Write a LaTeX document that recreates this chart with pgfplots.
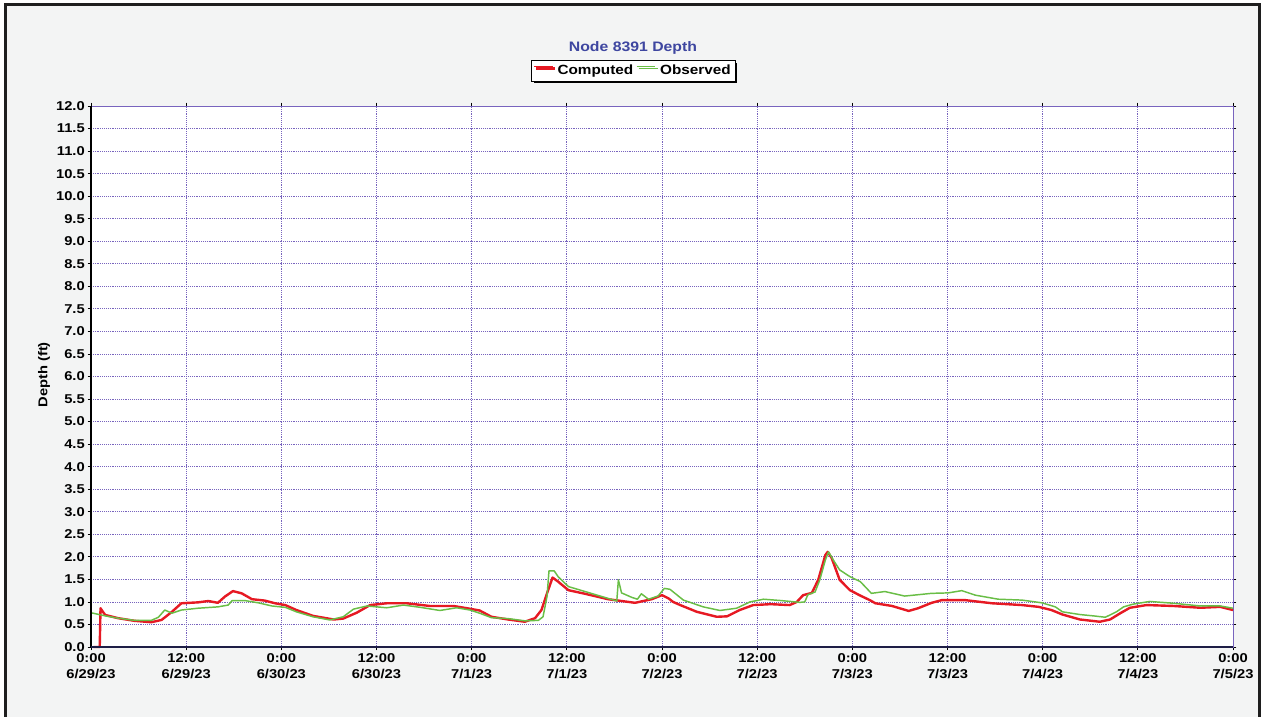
\documentclass[border=0pt]{standalone}
\usepackage{fontspec}
\setmainfont{Liberation Sans}[FakeStretch=1.15]
\usepackage{pgfplots}
\pgfplotsset{compat=1.18}
\usetikzlibrary{shadows}
\definecolor{gridc}{RGB}{120,100,190}
\definecolor{titlec}{RGB}{62,70,160}
\definecolor{bgc}{RGB}{243,244,244}
\definecolor{framec}{RGB}{30,30,30}
\definecolor{compc}{RGB}{230,25,35}
\definecolor{obsc}{RGB}{105,190,70}
\definecolor{navy}{RGB}{30,30,70}
\begin{document}
\begin{tikzpicture}
\path[use as bounding box] (-68.25pt,-52.5pt) rectangle (880.5pt,485.25pt);
\fill[white] (-68.25pt,-52.5pt) rectangle (880.5pt,485.25pt);
\fill[bgc] (-63.75pt,-52.5pt) rectangle (876pt,481.5pt);
\begin{axis}[
  at={(0pt,0pt)}, anchor=south west,
  scale only axis, width=856.5pt, height=405.75pt,
  xmin=0, xmax=144, ymin=0, ymax=12,
  xtick={0,12,...,144},
  xticklabels={{0:00\\6/29/23},{12:00\\6/29/23},{0:00\\6/30/23},{12:00\\6/30/23},{0:00\\7/1/23},{12:00\\7/1/23},{0:00\\7/2/23},{12:00\\7/2/23},{0:00\\7/3/23},{12:00\\7/3/23},{0:00\\7/4/23},{12:00\\7/4/23},{0:00\\7/5/23}},
  ytick={0,0.5,...,12},
  /pgf/number format/fixed, /pgf/number format/fixed zerofill, /pgf/number format/precision=1, /pgf/number format/assume math mode=true,
  yticklabel style={font=\fontsize{9.6}{11}\selectfont\bfseries, inner sep=2pt},
  xticklabel style={font=\fontsize{9.6}{12}\selectfont\bfseries, align=center, inner sep=2pt},
  tick align=outside, major tick length=2.5pt,
  tick style={black, line width=0.6pt},
  xmajorgrids, ymajorgrids,
  grid style={densely dotted, gridc, line width=0.6pt},
  axis line style={gridc, line width=0.6pt},
  axis background/.style={fill=white},
  ylabel={Depth (ft)},
  every axis y label/.style={at={(axis description cs:-0.0412,0.503)}, rotate=90, anchor=center, font=\fontsize{9.6}{11}\selectfont\bfseries},
  title={Node 8391 Depth},
  every axis title/.style={at={(axis description cs:0.4746,1.107)}, anchor=center, font=\fontsize{10.3}{12}\selectfont\bfseries, text=titlec},
  legend columns=2,
  legend style={at={(axis description cs:0.475,1.0647)}, anchor=center, draw=black, line width=0.8pt,
    font=\fontsize{10}{12}\selectfont\bfseries, inner sep=1.2pt,
    drop shadow={shadow xshift=1.6pt, shadow yshift=-1.6pt, fill=black, opacity=1},
    /tikz/every odd column/.append style={column sep=1pt}},
  legend image code/.code={\draw[#1, line width=1.1pt] (0pt,3.5pt) -- (14pt,3.5pt);},
  clip=false,
]
\addplot[compc, line width=1.8pt, line join=round] coordinates {
(0.3,0) (1.1,0) (1.2,0.86) (1.5,0.78) (1.8,0.71) (3.4,0.64) (5.5,0.58) (7.6,0.55) (8.9,0.60) (10.2,0.78) (11.4,0.97) (13.5,0.99) (14.8,1.02) (16.0,0.98) (16.9,1.12) (17.9,1.24) (19.0,1.19) (20.3,1.06) (21.9,1.03) (23.2,0.97) (24.5,0.93) (25.9,0.82) (28.0,0.69) (30.6,0.61) (31.8,0.63) (33.5,0.76) (35.2,0.93) (37.3,0.97) (39.8,0.97) (42.7,0.91) (45.7,0.91) (47.4,0.86) (49.0,0.81) (50.5,0.67) (52.6,0.61) (54.7,0.56) (56.0,0.64) (56.8,0.82) (57.5,1.19) (58.2,1.54) (58.9,1.45) (60.2,1.26) (62.3,1.18) (65.2,1.06) (68.6,0.98) (70.7,1.06) (72.0,1.15) (72.8,1.08) (73.4,1.00) (74.3,0.93) (76.4,0.78) (78.9,0.67) (80.2,0.68) (81.8,0.82) (83.5,0.93) (85.7,0.95) (88.1,0.93) (89.0,1.0) (89.8,1.15) (90.9,1.20) (91.7,1.49) (92.6,2.04) (92.9,2.11) (93.4,1.97) (94.4,1.49) (95.7,1.26) (97.0,1.14) (98.2,1.04) (98.9,0.97) (101.0,0.91) (103.1,0.80) (104.3,0.86) (106.0,0.98) (107.3,1.04) (110.2,1.04) (113.6,0.97) (117.4,0.93) (119.5,0.89) (121.1,0.82) (122.5,0.72) (124.7,0.61) (127.2,0.56) (128.5,0.61) (129.8,0.75) (131.0,0.87) (133.1,0.93) (136.5,0.91) (139.9,0.87) (142.4,0.89) (144.0,0.82)
};
\addlegendentry{Computed}
\addplot[obsc, line width=1.1pt, line join=round] coordinates {
(0,0.76) (1.8,0.69) (3.4,0.64) (5.5,0.59) (7.6,0.59) (8.5,0.66) (9.3,0.82) (10.2,0.75) (11.4,0.82) (13.5,0.86) (16.0,0.89) (17.3,0.93) (17.8,1.03) (19.4,1.03) (21.1,0.98) (22.8,0.91) (24.5,0.88) (25.9,0.78) (28.0,0.67) (30.1,0.60) (31.8,0.67) (33.1,0.84) (34.8,0.91) (37.3,0.87) (39.4,0.93) (41.5,0.88) (44.0,0.81) (46.1,0.87) (47.8,0.82) (49.0,0.75) (50.5,0.65) (52.6,0.63) (54.7,0.58) (56.4,0.59) (57.0,0.67) (57.5,1.12) (57.75,1.69) (58.4,1.69) (58.9,1.56) (60.2,1.34) (62.3,1.23) (64.4,1.12) (66.3,1.02) (66.5,1.49) (66.9,1.20) (68.2,1.10) (68.9,1.06) (69.4,1.18) (70.3,1.06) (71.5,1.13) (72.3,1.30) (73.0,1.28) (74.7,1.04) (77.2,0.89) (79.3,0.81) (81.4,0.86) (83.1,1.0) (84.8,1.06) (87.0,1.03) (89.4,0.99) (90.0,1.0) (90.4,1.16) (91.3,1.22) (91.9,1.49) (92.6,1.93) (93.0,2.11) (93.6,1.93) (94.4,1.71) (95.7,1.56) (97.0,1.45) (97.6,1.34) (98.4,1.19) (100.1,1.23) (102.6,1.13) (106.0,1.19) (108.1,1.20) (109.8,1.25) (111.5,1.15) (114.4,1.06) (117.4,1.04) (119.9,0.98) (121.6,0.89) (122.5,0.78) (124.7,0.72) (126.4,0.69) (127.9,0.66) (129.3,0.78) (130.2,0.89) (131.4,0.95) (133.5,1.01) (136.5,0.97) (139.9,0.91) (142.4,0.91) (144.0,0.86)
};
\addlegendentry{Observed}
\draw[black, line width=1.4pt] (rel axis cs:0,1) -- (rel axis cs:0,0);
\draw[navy, line width=1.4pt] (rel axis cs:0,0) -- (rel axis cs:1,0);
\end{axis}
\draw[framec, line width=2.25pt] (-63.75pt,-52.5pt) -- (-63.75pt,481.5pt) -- (876pt,481.5pt) -- (876pt,-52.5pt);
\end{tikzpicture}
\end{document}
